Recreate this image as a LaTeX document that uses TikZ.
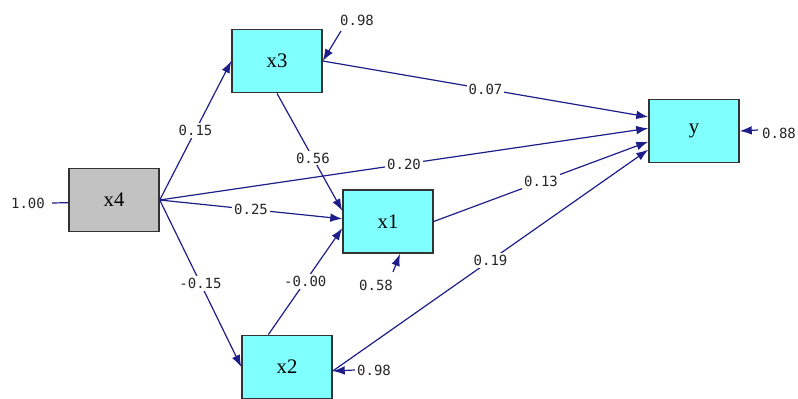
\documentclass[tikz,border=0pt]{standalone}
\usepackage{fontspec}
\setmainfont{Liberation Serif}
\newfontfamily\coeffont{DejaVu Sans Mono}
\usepackage{tikz}
\usetikzlibrary{arrows.meta}

\definecolor{boxcyan}{RGB}{128,255,255}
\definecolor{boxgray}{RGB}{194,194,194}
\definecolor{linkblue}{RGB}{30,30,138}

\begin{document}
\begin{tikzpicture}[
  x=0.75pt, y=-0.75pt,
  var/.style={rectangle, draw=black!80, line width=1.1pt, minimum width=67.5pt,
              minimum height=47.5pt, fill=boxcyan, align=center,
              font=\fontsize{15.5}{15.5}\selectfont},
  exo/.style={var, fill=boxgray},
  link/.style={-{Latex[length=9pt,width=6.5pt]}, draw=linkblue, line width=0.9pt},
  coef/.style={fill=white, inner sep=1.5pt, text=black!85,
               font=\coeffont\fontsize{10.5}{10.5}\selectfont},
]
  \useasboundingbox (0,0) rectangle (798,399);

  % Observed variables
  \node[exo] (x4) at (114,200) {x4};
  \node[var] (x3) at (277,61) {x3};
  \node[var] (x1) at (388,221.5) {x1};
  \node[var] (x2) at (287,367) {x2};
  \node[var] (y) at (694,131) {y};

  % Error terms (free ends of the residual arrows)
  \coordinate (r4) at (52,203);
  \coordinate (r3) at (341,31);
  \coordinate (r1) at (393,272);
  \coordinate (r2) at (355,370);
  \coordinate (ry) at (758,130);
  \node[coef, fill=none] (e4) at (28,203) {1.00};
  \node[coef, fill=none] (e3) at (357,20) {0.98};
  \node[coef, fill=none] (e1) at (376,285) {0.58};
  \node[coef, fill=none] (e2) at (374,370) {0.98};
  \node[coef, fill=none] (ey) at (779,133) {0.88};

  % Paths out of x4
  \draw[link] (x4.east) -- (x3.west) node[coef, midway] {0.15};
  \draw[link] (x4.east) -- ([yshift=2pt]x1.west) node[coef, midway] {0.25};
  \draw[link] (x4.east) -- (x2.west) node[coef, midway] {-0.15};
  \draw[link] (x4.east) -- ([yshift=2pt]y.west) node[coef, midway] {0.20};

  % Paths among x3, x2, x1
  \draw[link] (x3.south) -- ([yshift=8pt]x1.west) node[coef, pos=0.55] {0.56};
  \draw[link] ([xshift=-14pt]x2.north) -- ([yshift=-5pt]x1.west) node[coef, midway] {-0.00};

  % Paths into y
  \draw[link] (x3.east) -- ([yshift=10.5pt]y.west) node[coef, midway] {0.07};
  \draw[link] (x1.east) -- ([yshift=-8pt]y.west) node[coef, midway] {0.13};
  \draw[link] ([yshift=-3pt]x2.east) -- ([yshift=-14pt]y.west) node[coef, midway] {0.19};

  % Residuals
  \draw[link, -] (r4) -- ([yshift=-2pt]x4.west);
  \draw[link] (r3) -- (x3.east);
  \draw[link] (r1) -- ([xshift=9pt]x1.south);
  \draw[link] (r2) -- ([yshift=-3pt]x2.east);
  \draw[link] (ry) -- (y.east);
\end{tikzpicture}
\end{document}
